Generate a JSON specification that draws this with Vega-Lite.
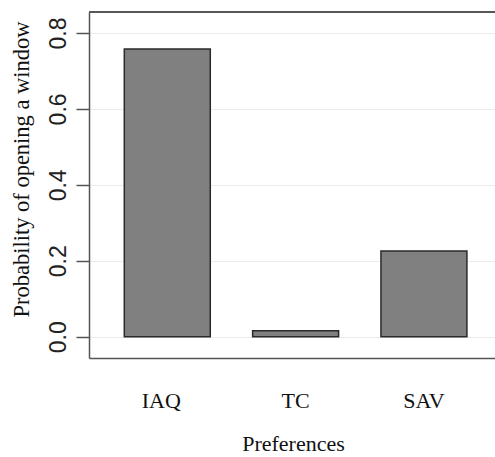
{
  "$schema": "https://vega.github.io/schema/vega-lite/v6.json",
  "autosize": "none",
  "padding": {"left": 89, "top": 12, "right": 0, "bottom": 99},
  "width": 406,
  "height": 346,
  "background": "white",
  "config": {"view": {"stroke": null}},
  "data": {"values": [
    {"pref": "IAQ", "prob": 0.758},
    {"pref": "TC", "prob": 0.016},
    {"pref": "SAV", "prob": 0.226}
  ]},
  "layer": [
    {
      "mark": {"type": "bar", "fill": "#808080", "stroke": "#2a2a2a", "strokeWidth": 1.5},
      "encoding": {
        "x": {
          "field": "pref", "type": "nominal", "sort": ["IAQ", "TC", "SAV"],
          "scale": {"paddingInner": 0.33, "paddingOuter": 0.247, "align": 0.557},
          "axis": {
            "title": "Preferences", "labelAngle": 0, "ticks": false, "tickSize": 0,
            "labelPadding": 49, "labelBaseline": "alphabetic",
            "labelFont": "Liberation Serif", "labelFontSize": 22, "labelColor": "#111",
            "labelOffset": {"condition": {"test": "datum.value === 'IAQ'", "value": -6}, "value": 0},
            "titleFont": "Liberation Serif", "titleFontSize": 22, "titleFontWeight": "normal", "titleColor": "#111",
            "titleBaseline": "alphabetic", "titleX": 204, "titleY": 92,
            "domainColor": "#555", "domainWidth": 1.5, "grid": false
          }
        },
        "y": {
          "field": "prob", "type": "quantitative",
          "scale": {"domain": [-0.0561, 0.8553], "nice": false, "zero": false},
          "axis": {
            "title": "Probability of opening a window",
            "values": [0, 0.2, 0.4, 0.6, 0.8], "format": ".1f",
            "labelAngle": -90, "labelAlign": "center", "labelBaseline": "alphabetic",
            "labelFont": "Liberation Sans", "labelFontSize": 23, "labelColor": "#222",
            "labelPadding": 11, "tickSize": 13, "tickColor": "#555", "tickWidth": 1.5,
            "domainColor": "#555", "domainWidth": 1.5,
            "grid": true, "gridColor": "#ebebeb", "gridWidth": 1.2,
            "titleFont": "Liberation Serif", "titleFontSize": 22.5, "titleFontWeight": "normal", "titleColor": "#111",
            "titleAngle": -90, "titleBaseline": "alphabetic", "titleAlign": "center",
            "titleX": -61, "titleY": 157
          }
        },
        "y2": {"datum": 0}
      }
    },
    {
      "mark": {"type": "rule", "color": "#555", "strokeWidth": 1.5},
      "encoding": {"y": {"datum": 0.8553}}
    }
  ]
}
